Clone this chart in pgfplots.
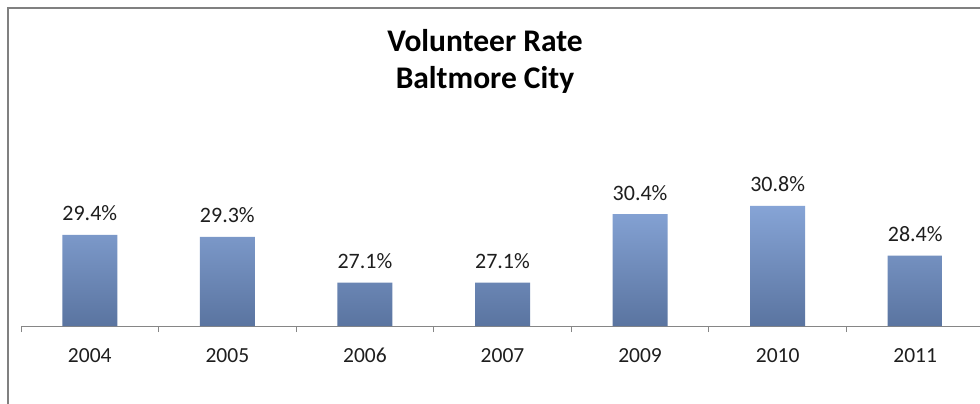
\documentclass[border=0pt]{standalone}
\usepackage{fontspec}
\setmainfont{Carlito}
\usepackage{pgfplots}
\usepackage{pgfplotstable}
\pgfplotsset{compat=1.18}
\definecolor{bartop}{RGB}{134,164,214}
\definecolor{barbot}{RGB}{90,116,160}
\definecolor{axgray}{RGB}{134,134,134}
\definecolor{framegray}{RGB}{128,128,128}
\definecolor{txt}{RGB}{30,30,30}
\pgfplotstableread{
x v
0 29.4
1 29.3
2 27.1
3 27.1
4 30.4
5 30.8
6 28.4
}\ratedata
\begin{document}
\begin{tikzpicture}
\useasboundingbox (0,0) rectangle (980bp,404bp);
\fill[white] (0,0) rectangle (980bp,404bp);
\draw[framegray, line width=2bp] (8bp,-2bp) -- (8bp,396bp) -- (990bp,396bp);
\node[font=\fontsize{31.5bp}{37bp}\selectfont\bfseries, anchor=base, text=black] at (485bp,352bp) {Volunteer Rate};
\node[font=\fontsize{31.5bp}{37bp}\selectfont\bfseries, anchor=base, text=black] at (485bp,315bp) {Baltmore City};
\begin{axis}[
  at={(21bp,78bp)}, anchor=south west,
  scale only axis, width=963bp, height=207bp,
  xmin=-0.5, xmax=6.5, ymin=0, ymax=10,
  axis y line=none, axis x line*=bottom,
  axis line style={axgray, line width=1bp, -},
  xtick={0,...,6},
  xticklabels={2004,2005,2006,2007,2009,2010,2011},
  major tick length=0pt,
  minor xtick={-0.5,0.5,...,6.5},
  minor tick length=6bp,
  tick align=outside,
  minor tick style={axgray, line width=1bp},
  xticklabel style={font=\fontsize{21.5bp}{25bp}\selectfont, text=txt, inner sep=0pt, anchor=base, yshift=-36bp},
  /pgf/number format/assume math mode=true,
  clip=false,
]
\addplot[ybar, bar width=55bp, draw=none, top color=bartop, bottom color=barbot,
  nodes near coords={\pgfmathprintnumber[fixed,fixed zerofill,precision=1]{\pgfplotspointmeta}\%},
  nodes near coords style={font=\fontsize{22bp}{25bp}\selectfont, text=txt, inner sep=0pt, anchor=base, yshift=14bp}]
  table[x=x, y expr=\thisrow{v}-25, point meta=\thisrow{v}] {\ratedata};
\end{axis}
\end{tikzpicture}
\end{document}
